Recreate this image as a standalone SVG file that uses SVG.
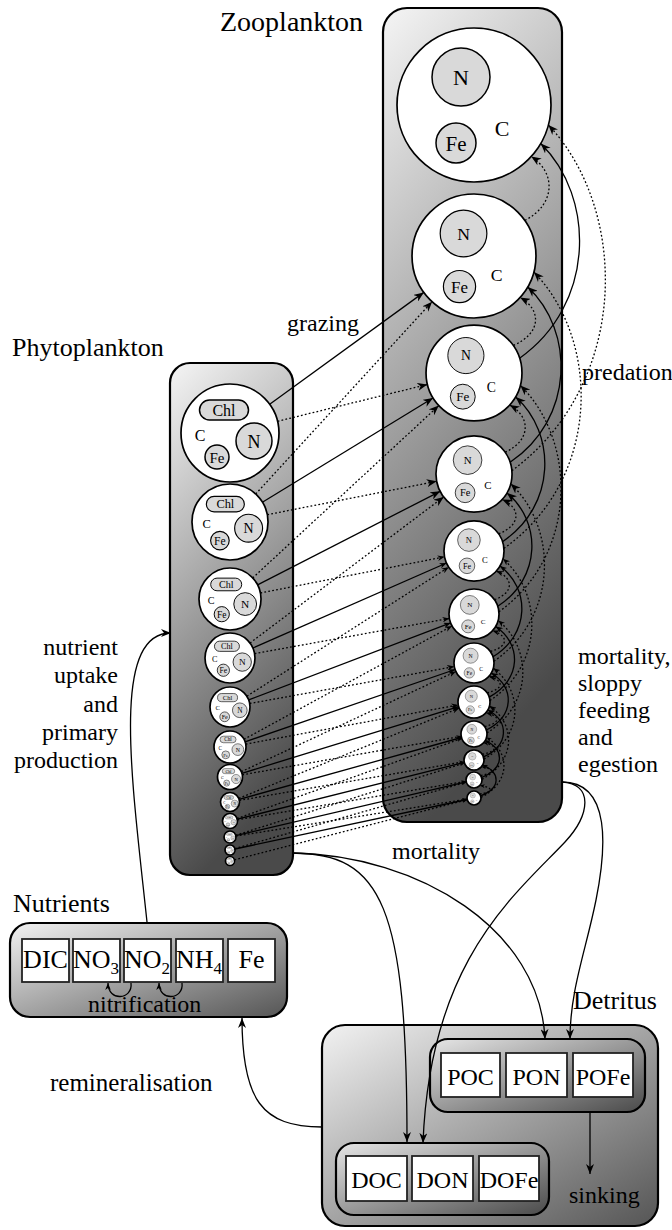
<svg xmlns="http://www.w3.org/2000/svg" width="672" height="1230" viewBox="0 0 672 1230" font-family="Liberation Serif, Times New Roman, DejaVu Serif, serif">
<style>
text{font-family:"Liberation Serif","Times New Roman","DejaVu Serif",serif;fill:#000}
.lbl{font-size:24px}
.hdr{font-size:26px}
.c text{text-anchor:middle}
.outer{fill:#fff;stroke:#000;stroke-width:1.7;vector-effect:non-scaling-stroke}
.inner{fill:#d9d9d9;stroke:#000;stroke-width:1.5}
.box{stroke:#000;stroke-width:2.2}
.tb{fill:#fff;stroke:#222;stroke-width:1.8}
.tb-t{font-size:26px;text-anchor:middle}
.dt-t{font-size:24px;text-anchor:middle}
#connectors path,#connectors line{fill:none;stroke:#000}
.s{stroke-width:1.3}
.d{stroke-width:1.3;stroke-dasharray:1.8 2.2}
.m1{marker-end:url(#ah)}
.m2{marker-end:url(#ahm)}
.m3{marker-end:url(#ahs)}
</style>
<defs>
<marker id="ah" viewBox="0 0 10 8" refX="10" refY="4" markerWidth="10" markerHeight="8" markerUnits="userSpaceOnUse" orient="auto"><path d="M0,0 L10,4 L0,8 L3,4 z" fill="#000"/></marker>
<marker id="ahm" viewBox="0 0 10 8" refX="10" refY="4" markerWidth="7" markerHeight="5.6" markerUnits="userSpaceOnUse" orient="auto"><path d="M0,0 L10,4 L0,8 L3,4 z" fill="#000"/></marker>
<marker id="ahs" viewBox="0 0 10 8" refX="10" refY="4" markerWidth="5" markerHeight="4" markerUnits="userSpaceOnUse" orient="auto"><path d="M0,0 L10,4 L0,8 L3,4 z" fill="#000"/></marker>
<linearGradient id="gv" x1="0" y1="0" x2="0.25" y2="1"><stop offset="0" stop-color="#f5f5f5"/><stop offset="1" stop-color="#4a4a4a"/></linearGradient>
<linearGradient id="gd" x1="0" y1="0" x2="1" y2="1"><stop offset="0" stop-color="#f2f2f2"/><stop offset="1" stop-color="#555"/></linearGradient>
<linearGradient id="gi" x1="0" y1="0" x2="1" y2="1"><stop offset="0" stop-color="#e6e6e6"/><stop offset="1" stop-color="#4a4a4a"/></linearGradient>
</defs>

<g id="zooplankton">
<rect class="box" x="383" y="8" width="179" height="814" rx="24" fill="url(#gv)"/>
<text class="hdr" x="220" y="31" font-size="28" style="font-size:28px">Zooplankton</text>
</g>
<g id="phytoplankton">
<rect class="box" x="170" y="363" width="123" height="512" rx="20" fill="url(#gv)"/>
<text class="hdr" x="12" y="356">Phytoplankton</text>
</g>
<g id="nutrients">
<rect class="box" x="10" y="923" width="277" height="94" rx="20" fill="url(#gd)"/>
<text class="hdr" x="13" y="912">Nutrients</text>
<rect class="tb" x="22" y="939" width="47" height="43"/><text class="tb-t" x="45.5" y="968">DIC</text>
<rect class="tb" x="73" y="939" width="47" height="43"/><text class="tb-t" x="96" y="968">NO<tspan font-size="17" dy="6">3</tspan></text>
<rect class="tb" x="124" y="939" width="47" height="43"/><text class="tb-t" x="147" y="968">NO<tspan font-size="17" dy="6">2</tspan></text>
<rect class="tb" x="176" y="939" width="47" height="43"/><text class="tb-t" x="199" y="968">NH<tspan font-size="17" dy="6">4</tspan></text>
<rect class="tb" x="228" y="939" width="47" height="43"/><text class="tb-t" x="251.5" y="968">Fe</text>
<text class="lbl" x="88" y="1012" font-size="23">nitrification</text>
</g>
<g id="detritus">
<rect class="box" x="322" y="1025" width="336" height="201" rx="23" fill="url(#gd)"/>
<text class="hdr" x="573" y="1009">Detritus</text>
<g id="particulate">
<rect class="box" x="430" y="1039" width="215" height="73" rx="18" fill="url(#gi)"/>
<rect class="tb" x="441" y="1053" width="59" height="44"/><text class="dt-t" x="470.5" y="1085">POC</text>
<rect class="tb" x="506" y="1053" width="61" height="44"/><text class="dt-t" x="536.5" y="1085">PON</text>
<rect class="tb" x="573" y="1053" width="60" height="44"/><text class="dt-t" x="603" y="1085">POFe</text>
</g>
<g id="dissolved">
<rect class="box" x="336" y="1143" width="213" height="72" rx="18" fill="url(#gi)"/>
<rect class="tb" x="346" y="1156" width="61" height="45"/><text class="dt-t" x="376.5" y="1188">DOC</text>
<rect class="tb" x="412" y="1156" width="61" height="45"/><text class="dt-t" x="442.5" y="1188">DON</text>
<rect class="tb" x="479" y="1156" width="60" height="45"/><text class="dt-t" x="509" y="1188">DOFe</text>
</g>
<text class="lbl" x="569" y="1203">sinking</text>
</g>

<g class="c">
<g id="phyto-1" transform="translate(230,433) scale(1)"><circle class="outer" r="49"/><rect class="inner" x="-30.5" y="-33" width="49" height="20" rx="10"/><text x="-6" y="-17.5" font-size="16">Chl</text><circle class="inner" cx="24" cy="8" r="18"/><text x="24" y="14.5" font-size="18">N</text><circle class="inner" cx="-13" cy="24" r="12"/><text x="-13" y="29.5" font-size="15">Fe</text><text x="-30" y="8" font-size="16">C</text></g>
<g id="phyto-2" transform="translate(230,522) scale(0.776)"><circle class="outer" r="49"/><rect class="inner" x="-30.5" y="-33" width="49" height="20" rx="10"/><text x="-6" y="-17.5" font-size="16">Chl</text><circle class="inner" cx="24" cy="8" r="18"/><text x="24" y="14.5" font-size="18">N</text><circle class="inner" cx="-13" cy="24" r="12"/><text x="-13" y="29.5" font-size="15">Fe</text><text x="-30" y="8" font-size="16">C</text></g>
<g id="phyto-3" transform="translate(230,599) scale(0.633)"><circle class="outer" r="49"/><rect class="inner" x="-30.5" y="-33" width="49" height="20" rx="10"/><text x="-6" y="-17.5" font-size="16">Chl</text><circle class="inner" cx="24" cy="8" r="18"/><text x="24" y="14.5" font-size="18">N</text><circle class="inner" cx="-13" cy="24" r="12"/><text x="-13" y="29.5" font-size="15">Fe</text><text x="-30" y="8" font-size="16">C</text></g>
<g id="phyto-4" transform="translate(230,658) scale(0.51)"><circle class="outer" r="49"/><rect class="inner" x="-30.5" y="-33" width="49" height="20" rx="10"/><text x="-6" y="-17.5" font-size="16">Chl</text><circle class="inner" cx="24" cy="8" r="18"/><text x="24" y="14.5" font-size="18">N</text><circle class="inner" cx="-13" cy="24" r="12"/><text x="-13" y="29.5" font-size="15">Fe</text><text x="-30" y="8" font-size="16">C</text></g>
<g id="phyto-5" transform="translate(230,707) scale(0.408)"><circle class="outer" r="49"/><rect class="inner" x="-30.5" y="-33" width="49" height="20" rx="10"/><text x="-6" y="-17.5" font-size="16">Chl</text><circle class="inner" cx="24" cy="8" r="18"/><text x="24" y="14.5" font-size="18">N</text><circle class="inner" cx="-13" cy="24" r="12"/><text x="-13" y="29.5" font-size="15">Fe</text><text x="-30" y="8" font-size="16">C</text></g>
<g id="phyto-6" transform="translate(230,747) scale(0.327)"><circle class="outer" r="49"/><rect class="inner" x="-30.5" y="-33" width="49" height="20" rx="10"/><text x="-6" y="-17.5" font-size="16">Chl</text><circle class="inner" cx="24" cy="8" r="18"/><text x="24" y="14.5" font-size="18">N</text><circle class="inner" cx="-13" cy="24" r="12"/><text x="-13" y="29.5" font-size="15">Fe</text><text x="-30" y="8" font-size="16">C</text></g>
<g id="phyto-7" transform="translate(230,777) scale(0.255)"><circle class="outer" r="49"/><rect class="inner" x="-30.5" y="-33" width="49" height="20" rx="10"/><text x="-6" y="-17.5" font-size="16">Chl</text><circle class="inner" cx="24" cy="8" r="18"/><text x="24" y="14.5" font-size="18">N</text><circle class="inner" cx="-13" cy="24" r="12"/><text x="-13" y="29.5" font-size="15">Fe</text><text x="-30" y="8" font-size="16">C</text></g>
<g id="phyto-8" transform="translate(230,802) scale(0.194)"><circle class="outer" r="49"/><rect class="inner" x="-30.5" y="-33" width="49" height="20" rx="10"/><text x="-6" y="-17.5" font-size="16">Chl</text><circle class="inner" cx="24" cy="8" r="18"/><text x="24" y="14.5" font-size="18">N</text><circle class="inner" cx="-13" cy="24" r="12"/><text x="-13" y="29.5" font-size="15">Fe</text><text x="-30" y="8" font-size="16">C</text></g>
<g id="phyto-9" transform="translate(230,821) scale(0.153)"><circle class="outer" r="49"/><rect class="inner" x="-30.5" y="-33" width="49" height="20" rx="10"/><text x="-6" y="-17.5" font-size="16">Chl</text><circle class="inner" cx="24" cy="8" r="18"/><text x="24" y="14.5" font-size="18">N</text><circle class="inner" cx="-13" cy="24" r="12"/><text x="-13" y="29.5" font-size="15">Fe</text><text x="-30" y="8" font-size="16">C</text></g>
<g id="phyto-10" transform="translate(230,837) scale(0.122)"><circle class="outer" r="49"/><rect class="inner" x="-30.5" y="-33" width="49" height="20" rx="10"/><text x="-6" y="-17.5" font-size="16">Chl</text><circle class="inner" cx="24" cy="8" r="18"/><text x="24" y="14.5" font-size="18">N</text><circle class="inner" cx="-13" cy="24" r="12"/><text x="-13" y="29.5" font-size="15">Fe</text><text x="-30" y="8" font-size="16">C</text></g>
<g id="phyto-11" transform="translate(230,850) scale(0.102)"><circle class="outer" r="49"/><rect class="inner" x="-30.5" y="-33" width="49" height="20" rx="10"/><text x="-6" y="-17.5" font-size="16">Chl</text><circle class="inner" cx="24" cy="8" r="18"/><text x="24" y="14.5" font-size="18">N</text><circle class="inner" cx="-13" cy="24" r="12"/><text x="-13" y="29.5" font-size="15">Fe</text><text x="-30" y="8" font-size="16">C</text></g>
<g id="phyto-12" transform="translate(230,861) scale(0.092)"><circle class="outer" r="49"/><rect class="inner" x="-30.5" y="-33" width="49" height="20" rx="10"/><text x="-6" y="-17.5" font-size="16">Chl</text><circle class="inner" cx="24" cy="8" r="18"/><text x="24" y="14.5" font-size="18">N</text><circle class="inner" cx="-13" cy="24" r="12"/><text x="-13" y="29.5" font-size="15">Fe</text><text x="-30" y="8" font-size="16">C</text></g>
</g>

<g class="c">
<g id="zoo-1" transform="translate(474,105) scale(1)"><circle class="outer" r="77"/><circle class="inner" cx="-13" cy="-28" r="29"/><text x="-13" y="-20.5" font-size="22">N</text><circle class="inner" cx="-18" cy="38" r="20"/><text x="-18" y="45.5" font-size="21">Fe</text><text x="28" y="30.5" font-size="22">C</text></g>
<g id="zoo-2" transform="translate(474,256) scale(0.805)"><circle class="outer" r="77"/><circle class="inner" cx="-13" cy="-28" r="29"/><text x="-13" y="-20.5" font-size="22">N</text><circle class="inner" cx="-18" cy="38" r="20"/><text x="-18" y="45.5" font-size="21">Fe</text><text x="28" y="30.5" font-size="22">C</text></g>
<g id="zoo-3" transform="translate(474,373) scale(0.623)"><circle class="outer" r="77"/><circle class="inner" cx="-13" cy="-28" r="29"/><text x="-13" y="-20.5" font-size="22">N</text><circle class="inner" cx="-18" cy="38" r="20"/><text x="-18" y="45.5" font-size="21">Fe</text><text x="28" y="30.5" font-size="22">C</text></g>
<g id="zoo-4" transform="translate(474,474) scale(0.494)"><circle class="outer" r="77"/><circle class="inner" cx="-13" cy="-28" r="29"/><text x="-13" y="-20.5" font-size="22">N</text><circle class="inner" cx="-18" cy="38" r="20"/><text x="-18" y="45.5" font-size="21">Fe</text><text x="28" y="30.5" font-size="22">C</text></g>
<g id="zoo-5" transform="translate(474,551) scale(0.39)"><circle class="outer" r="77"/><circle class="inner" cx="-13" cy="-28" r="29"/><text x="-13" y="-20.5" font-size="22">N</text><circle class="inner" cx="-18" cy="38" r="20"/><text x="-18" y="45.5" font-size="21">Fe</text><text x="28" y="30.5" font-size="22">C</text></g>
<g id="zoo-6" transform="translate(474,614) scale(0.325)"><circle class="outer" r="77"/><circle class="inner" cx="-13" cy="-28" r="29"/><text x="-13" y="-20.5" font-size="22">N</text><circle class="inner" cx="-18" cy="38" r="20"/><text x="-18" y="45.5" font-size="21">Fe</text><text x="28" y="30.5" font-size="22">C</text></g>
<g id="zoo-7" transform="translate(474,663) scale(0.26)"><circle class="outer" r="77"/><circle class="inner" cx="-13" cy="-28" r="29"/><text x="-13" y="-20.5" font-size="22">N</text><circle class="inner" cx="-18" cy="38" r="20"/><text x="-18" y="45.5" font-size="21">Fe</text><text x="28" y="30.5" font-size="22">C</text></g>
<g id="zoo-8" transform="translate(474,702) scale(0.208)"><circle class="outer" r="77"/><circle class="inner" cx="-13" cy="-28" r="29"/><text x="-13" y="-20.5" font-size="22">N</text><circle class="inner" cx="-18" cy="38" r="20"/><text x="-18" y="45.5" font-size="21">Fe</text><text x="28" y="30.5" font-size="22">C</text></g>
<g id="zoo-9" transform="translate(474,734) scale(0.169)"><circle class="outer" r="77"/><circle class="inner" cx="-13" cy="-28" r="29"/><text x="-13" y="-20.5" font-size="22">N</text><circle class="inner" cx="-18" cy="38" r="20"/><text x="-18" y="45.5" font-size="21">Fe</text><text x="28" y="30.5" font-size="22">C</text></g>
<g id="zoo-10" transform="translate(474,760) scale(0.13)"><circle class="outer" r="77"/><circle class="inner" cx="-13" cy="-28" r="29"/><text x="-13" y="-20.5" font-size="22">N</text><circle class="inner" cx="-18" cy="38" r="20"/><text x="-18" y="45.5" font-size="21">Fe</text><text x="28" y="30.5" font-size="22">C</text></g>
<g id="zoo-11" transform="translate(474,780) scale(0.104)"><circle class="outer" r="77"/><circle class="inner" cx="-13" cy="-28" r="29"/><text x="-13" y="-20.5" font-size="22">N</text><circle class="inner" cx="-18" cy="38" r="20"/><text x="-18" y="45.5" font-size="21">Fe</text><text x="28" y="30.5" font-size="22">C</text></g>
<g id="zoo-12" transform="translate(474,798) scale(0.091)"><circle class="outer" r="77"/><circle class="inner" cx="-13" cy="-28" r="29"/><text x="-13" y="-20.5" font-size="22">N</text><circle class="inner" cx="-18" cy="38" r="20"/><text x="-18" y="45.5" font-size="21">Fe</text><text x="28" y="30.5" font-size="22">C</text></g>
</g>

<g id="connectors">
<line class="s m1" x1="269.7" y1="404.2" x2="423.8" y2="292.4"/>
<line class="s m1" x1="262.4" y1="502.2" x2="433" y2="398"/>
<line class="s m1" x1="257.6" y1="584.9" x2="440.2" y2="491.3"/>
<line class="s m2" x1="252.9" y1="648" x2="446.5" y2="563"/>
<line class="s m2" x1="248.7" y1="699.9" x2="450.6" y2="622.9"/>
<line class="s m2" x1="245.1" y1="741.8" x2="455.1" y2="669.5"/>
<line class="s m2" x1="241.9" y1="773.3" x2="458.7" y2="706.7"/>
<line class="s m3" x1="239.2" y1="799.4" x2="461.5" y2="737.5"/>
<line class="s m3" x1="237.3" y1="819.2" x2="464.3" y2="762.4"/>
<line class="s m3" x1="235.8" y1="835.6" x2="466.2" y2="781.8"/>
<line class="s m3" x1="234.9" y1="849" x2="467.2" y2="799.5"/>
<line class="d m1" x1="255.7" y1="494" x2="432.1" y2="301.7"/>
<line class="d m1" x1="252.7" y1="577.9" x2="438.8" y2="405.6"/>
<line class="d m1" x1="250" y1="643" x2="443.7" y2="496.9"/>
<line class="d m2" x1="246.9" y1="696.2" x2="448.7" y2="567.2"/>
<line class="d m2" x1="244" y1="739.3" x2="452" y2="626"/>
<line class="d m2" x1="241.3" y1="771.7" x2="455.9" y2="671.5"/>
<line class="d m2" x1="238.8" y1="798.4" x2="459.2" y2="708.1"/>
<line class="d m3" x1="237.1" y1="818.5" x2="461.8" y2="738.4"/>
<line class="d m3" x1="235.7" y1="835.2" x2="464.5" y2="763"/>
<line class="d m3" x1="234.8" y1="848.6" x2="466.3" y2="782.2"/>
<line class="d m3" x1="234.4" y1="859.9" x2="467.2" y2="799.8"/>
<line class="d m1" x1="277.6" y1="421.3" x2="427.4" y2="384.5"/>
<line class="d m1" x1="267.3" y1="514.7" x2="436.7" y2="481.3"/>
<line class="d m2" x1="260.4" y1="593" x2="444.6" y2="556.8"/>
<line class="d m2" x1="254.6" y1="653.6" x2="449.4" y2="618.4"/>
<line class="d m2" x1="249.7" y1="703.5" x2="454.3" y2="666.6"/>
<line class="d m2" x1="245.7" y1="744.1" x2="458.3" y2="704.9"/>
<line class="d m3" x1="242.3" y1="774.8" x2="461.2" y2="736.3"/>
<line class="d m3" x1="239.4" y1="800.4" x2="464.1" y2="761.7"/>
<line class="d m3" x1="237.4" y1="819.8" x2="466.1" y2="781.3"/>
<line class="d m3" x1="235.9" y1="836.1" x2="467.1" y2="799.1"/>
<path class="d m1" d="M524.8,220.4 C556,204.4 556,172.5 531.2,156.5"/>
<path class="d m1" d="M513.3,345.4 C541.7,333.4 541.7,309.5 520.1,297.5"/>
<path class="d m1" d="M505.1,452.2 C531.1,440.4 531.1,416.9 509.7,405.1"/>
<path class="d m1" d="M498.6,533.8 C521.1,525.2 521.1,508 502.2,499.4"/>
<path class="d m2" d="M494.5,599.7 C514,592.5 514,578.3 496.3,571.1"/>
<path class="d m2" d="M490.4,651.5 C508.8,646.3 508.8,635.9 492.6,630.7"/>
<path class="d m2" d="M487.1,692.8 C504.2,688.7 504.2,680.5 488.9,676.4"/>
<path class="d m2" d="M484.6,726.5 C500.7,723.1 500.7,716.1 485.9,712.7"/>
<path class="d m3" d="M482.2,754.3 C498,751.4 498,745.6 483.7,742.7"/>
<path class="d m3" d="M480.6,775.4 C495.1,773.2 495.1,768.9 481.4,766.7"/>
<path class="d m3" d="M479.7,794 C493.6,791.9 493.6,787.6 479.9,785.4"/>
<path class="s m1" d="M519.6,358.2 C595.6,304.5 595.6,197.2 540.7,143.5"/>
<path class="s m1" d="M510.1,462.3 C574.8,418.5 574.8,330.8 527.7,287"/>
<path class="s m1" d="M502.5,541.7 C556.5,505.5 556.5,433.2 515.6,397"/>
<path class="s m1" d="M497.8,606.3 C541.6,578 541.6,521.3 506.9,493"/>
<path class="s m2" d="M493,656.8 C530.2,634.1 530.2,588.7 500,566"/>
<path class="s m2" d="M489.2,697.1 C521.8,679.4 521.8,644.2 495.7,626.5"/>
<path class="s m2" d="M486.4,730 C514.7,715.7 514.7,687.3 491.3,673"/>
<path class="s m2" d="M483.5,756.9 C509.3,745.2 509.3,721.7 487.9,710"/>
<path class="s m3" d="M481.6,777.5 C504.7,768.2 504.7,749.8 485.3,740.5"/>
<path class="s m3" d="M480.7,795.8 C500.9,788.1 500.9,772.7 482.7,765"/>
<path class="d m1" d="M511.8,470.7 C629.6,384.2 629.6,211.4 548.4,124.9"/>
<path class="d m1" d="M503.9,548.4 C601.2,479.3 601.2,341.2 533.9,272.1"/>
<path class="d m1" d="M498.9,611.8 C577.7,555.2 577.7,442 520.4,385.4"/>
<path class="d m1" d="M493.9,661.3 C558.2,616.9 558.2,528.2 510.7,483.8"/>
<path class="d m2" d="M489.9,700.6 C543.4,665.1 543.4,594.3 503,558.8"/>
<path class="d m2" d="M486.9,732.9 C532.7,704.8 532.7,648.6 498.2,620.5"/>
<path class="d m2" d="M484,759.1 C523.5,736.4 523.5,690.9 493.3,668.2"/>
<path class="d m2" d="M482,779.3 C516.1,761 516.1,724.4 489.5,706.1"/>
<path class="d m3" d="M481,797.4 C510.6,782.4 510.6,752.4 486.6,737.4"/>
<path class="s m1" d="M147,922 C132,780 110,633 171,633"/>
<path class="s m2" d="M131,983 C133,1000 108,1002 108,983"/>
<path class="s m2" d="M182,983 C184,1000 159,1002 159,983"/>
<path class="s m1" d="M292,853 C382,853 407,905 407,1142"/>
<path class="s m1" d="M292,853 C420,855 540,930 545,1039"/>
<path class="s m1" d="M562,782 C594,784 590,815 565,842 C515,895 430,960 423,1143"/>
<path class="s m1" d="M562,782 C612,782 606,850 596,900 C586,950 570,990 570,1039"/>
<path class="s m1" d="M322,1127 C262,1127 242,1100 242,1018"/>
<path class="s m1" d="M590,1112 L590,1174"/>
</g>

<g id="labels">
<text class="lbl" x="287" y="331">grazing</text>
<text class="lbl" x="582" y="380">predation</text>
<text class="lbl" x="118" y="655" text-anchor="end">nutrient</text>
<text class="lbl" x="118" y="683" text-anchor="end">uptake</text>
<text class="lbl" x="118" y="712" text-anchor="end">and</text>
<text class="lbl" x="118" y="740" text-anchor="end">primary</text>
<text class="lbl" x="118" y="768" text-anchor="end">production</text>
<text class="lbl" x="578" y="664">mortality,</text>
<text class="lbl" x="578" y="691">sloppy</text>
<text class="lbl" x="578" y="718">feeding</text>
<text class="lbl" x="578" y="745">and</text>
<text class="lbl" x="578" y="772">egestion</text>
<text class="lbl" x="392" y="859">mortality</text>
<text class="lbl" x="50" y="1091" style="font-size:25px">remineralisation</text>
</g>
</svg>
